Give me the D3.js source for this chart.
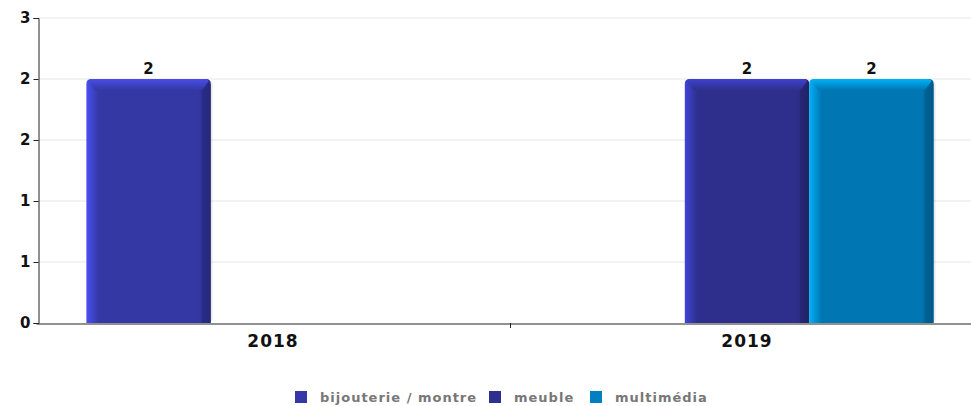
<!DOCTYPE html>
<html><head><meta charset="utf-8">
<script src="https://cdn.jsdelivr.net/npm/d3@7"></script>
<style>body{margin:0;background:#fff}svg{display:block}text{font-family:"DejaVu Sans",sans-serif;font-weight:bold}</style>
</head><body><div id="c"></div>
<script>
const categories = ["2018", "2019"];
const seriesNames = ["bijouterie / montre", "meuble", "multimédia"];
const bijouterie = [2, null];
const meuble = [null, 2];
const multimedia = [null, 2];
const yTickValues = [0, 0.5, 1, 1.5, 2, 2.5];
const yTickLabels = ["0", "1", "1", "2", "2", "3"];

const colors = [
  {base:"#3438a4", light:"#4a4ff2", top:"#4a4ee6", dark:"#26287a", legend:"#3539a8"},
  {base:"#2e2f8c", light:"#4145d8", top:"#3f42d0", dark:"#222368", legend:"#2e2f8e"},
  {base:"#0077b3", light:"#00b0f8", top:"#00b2fa", dark:"#005a88", legend:"#0080c0"}
];
const series = [bijouterie, meuble, multimedia];

const W = 971, H = 406;
const svg = d3.select("#c").append("svg").attr("width", W).attr("height", H);
const defs = svg.append("defs");
colors.forEach((c, i) => {
  const g = defs.append("linearGradient").attr("id", "g" + i).attr("x1", 0).attr("x2", 1).attr("y1", 0).attr("y2", 0);
  g.append("stop").attr("offset", "0").attr("stop-color", c.light);
  g.append("stop").attr("offset", "0.1").attr("stop-color", c.base);
  g.append("stop").attr("offset", "0.9").attr("stop-color", c.base);
  g.append("stop").attr("offset", "1").attr("stop-color", c.dark);
  const t = defs.append("linearGradient").attr("id", "t" + i).attr("x1", 0).attr("x2", 0).attr("y1", 0).attr("y2", 1);
  t.append("stop").attr("offset", "0").attr("stop-color", c.top);
  t.append("stop").attr("offset", "1").attr("stop-color", c.base);
});

const x0 = d3.scaleBand().domain(categories).range([36, 984]).paddingInner(0).paddingOuter(0);
const x1 = d3.scaleBand().domain(d3.range(seriesNames.length)).range([0, x0.bandwidth()]).paddingInner(0).paddingOuter(0.405);
const y = d3.scaleLinear().domain([0, 2.5]).range([323, 18]);

// grid
svg.append("g").selectAll("line").data(yTickValues.slice(1)).join("line")
  .attr("x1", 38).attr("x2", W).attr("y1", d => y(d)).attr("y2", d => y(d))
  .attr("stroke", "#e6e6e6").attr("stroke-width", 1);

// y axis
const yAxis = d3.axisLeft(y).tickValues(yTickValues).tickSize(5).tickPadding(3)
  .tickFormat((d, i) => yTickLabels[i]);
const ya = svg.append("g").attr("transform", "translate(38.5,0)").call(yAxis);
ya.select(".domain").attr("stroke", "#222");
ya.selectAll(".tick line").attr("stroke", "#222");
ya.selectAll("text").attr("font-size", 15).attr("fill", "#111").style("font-family", '"DejaVu Sans",sans-serif').style("font-weight", "bold");

// bars
const bars = svg.append("g");
series.forEach((vals, si) => {
  vals.forEach((v, ci) => {
    if (v == null) return;
    const bx = x0(categories[ci]) + x1(si), bw = x1.bandwidth();
    const top = y(v), bot = y(0), bv = 9, r = 5;
    const g = bars.append("g");
    g.append("rect").attr("x", bx + 2).attr("y", top + 1).attr("width", bw).attr("height", bot - top - 1)
      .attr("fill", "#000").attr("opacity", 0.08).attr("rx", r);
    g.append("path").attr("d", `M${bx},${bot} L${bx},${top + r} Q${bx},${top} ${bx + r},${top} L${bx + bw - r},${top} Q${bx + bw},${top} ${bx + bw},${top + r} L${bx + bw},${bot} Z`)
      .attr("fill", `url(#g${si})`);
    g.append("path").attr("d", `M${bx + 2},${top + 2} Q${bx + 3},${top} ${bx + r + 1},${top} L${bx + bw - r - 1},${top} Q${bx + bw - 3},${top} ${bx + bw - 2},${top + 2} L${bx + bw - bv},${top + bv + 2} L${bx + bv},${top + bv + 2} Z`)
      .attr("fill", `url(#t${si})`);
    g.append("path").attr("d", `M${bx + bw},${top + r} L${bx + bw - bv},${top + bv + 2} L${bx + bw - bv},${bot} L${bx + bw},${bot} Z`)
      .attr("fill", colors[si].dark).attr("opacity", 0.55);
    g.append("text").attr("x", bx + bw / 2).attr("y", top - 5).attr("text-anchor", "middle")
      .attr("font-size", 15).attr("fill", "#111").text(v);
  });
});

// x axis
const xAxis = d3.axisBottom(x0).tickSize(0).tickPadding(11);
const xa = svg.append("g").attr("transform", "translate(0,323.5)").call(xAxis);
xa.select(".domain").attr("stroke", "#222");
xa.selectAll("text").attr("font-size", 17).attr("fill", "#111").style("font-family", '"DejaVu Sans",sans-serif').style("font-weight", "bold").attr("letter-spacing", 1);
svg.append("g").selectAll("line").data(categories.slice(1)).join("line")
  .attr("x1", d => Math.round(x0(d)) + 0.5).attr("x2", d => Math.round(x0(d)) + 0.5)
  .attr("y1", 323).attr("y2", 328).attr("stroke", "#222");

// legend
const legendX = [295, 489, 590];
const lg = svg.append("g");
seriesNames.forEach((n, i) => {
  lg.append("rect").attr("x", legendX[i]).attr("y", 391).attr("width", 12).attr("height", 12).attr("fill", colors[i].legend);
  lg.append("text").attr("x", legendX[i] + 25).attr("y", 402).attr("font-size", 13).attr("letter-spacing", 1).attr("fill", "#777").text(n);
});
</script></body></html>
